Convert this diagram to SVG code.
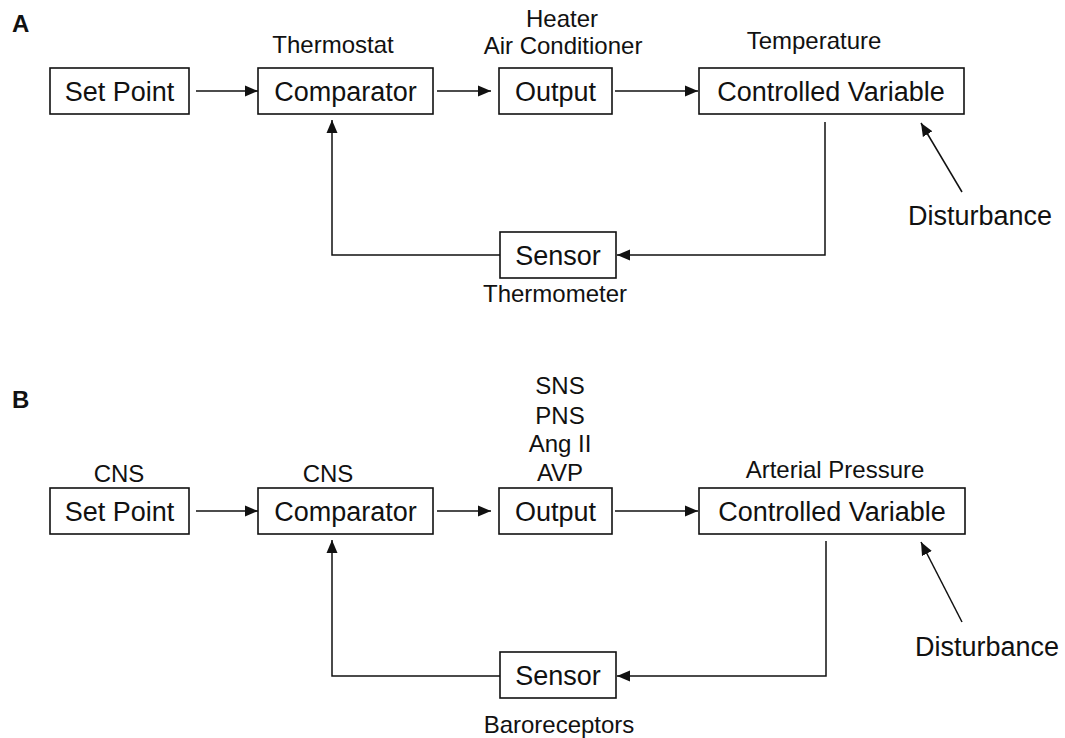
<svg xmlns="http://www.w3.org/2000/svg" width="1065" height="738" viewBox="0 0 1065 738">
<style>
.box{fill:#fff;stroke:#111;stroke-width:1.6}
.bt{font-family:"Liberation Sans",Arial,sans-serif;font-size:27px;fill:#111;text-anchor:middle}
.lt{font-family:"Liberation Sans",Arial,sans-serif;font-size:24px;fill:#111;text-anchor:middle}
.pl{font-family:"Liberation Sans",Arial,sans-serif;font-size:24px;font-weight:bold;fill:#111}
.ln{fill:none;stroke:#111;stroke-width:1.5}
.ar{marker-end:url(#ah)}
</style>
<defs>
<marker id="ah" markerUnits="userSpaceOnUse" markerWidth="14" markerHeight="12" refX="13" refY="6" orient="auto">
<path d="M0,0.5 L13,6 L0,11.5 z" fill="#111"/>
</marker>
</defs>
<rect width="1065" height="738" fill="#fff"/>
<text class="pl" x="12" y="32">A</text>
<text class="pl" x="12" y="408">B</text>
<g id="connectors">
<path class="ln ar" d="M196,91 H258"/>
<path class="ln ar" d="M437,91 H491"/>
<path class="ln ar" d="M615,91 H698"/>
<path class="ln ar" d="M825,122 V255 H617"/>
<path class="ln ar" d="M500,255 H332 V120"/>
<path class="ln ar" d="M962,192 L921,123"/>
<path class="ln ar" d="M196,511 H258"/>
<path class="ln ar" d="M437,511 H491"/>
<path class="ln ar" d="M615,511 H698"/>
<path class="ln ar" d="M826,541 V676 H617"/>
<path class="ln ar" d="M500,676 H332 V540"/>
<path class="ln ar" d="M962,622 L921,542"/>
</g>
<g id="a-setpoint"><rect class="box" x="50" y="68" width="139" height="46"/><text class="bt" x="119.5" y="101">Set Point</text></g>
<g id="a-comparator"><rect class="box" x="258" y="68" width="175" height="46"/><text class="bt" x="345.5" y="101">Comparator</text><text class="lt" x="333" y="53">Thermostat</text></g>
<g id="a-output"><rect class="box" x="499" y="68" width="113" height="46"/><text class="bt" x="555.5" y="101">Output</text><text class="lt" x="562" y="27">Heater</text><text class="lt" x="563" y="54">Air Conditioner</text></g>
<g id="a-cv"><rect class="box" x="699" y="68" width="265" height="46"/><text class="bt" x="831" y="101">Controlled Variable</text><text class="lt" x="814" y="49">Temperature</text></g>
<g id="a-sensor"><rect class="box" x="500" y="232" width="116" height="46"/><text class="bt" x="558" y="265">Sensor</text><text class="lt" x="555" y="302">Thermometer</text></g>
<g id="a-disturbance"><text class="bt" x="980" y="225">Disturbance</text></g>
<g id="b-setpoint"><rect class="box" x="50" y="488" width="139" height="46"/><text class="bt" x="119.5" y="521">Set Point</text><text class="lt" x="119" y="482">CNS</text></g>
<g id="b-comparator"><rect class="box" x="258" y="488" width="175" height="46"/><text class="bt" x="345.5" y="521">Comparator</text><text class="lt" x="328" y="482">CNS</text></g>
<g id="b-output"><rect class="box" x="499" y="488" width="113" height="46"/><text class="bt" x="555.5" y="521">Output</text><text class="lt" x="560" y="394">SNS</text><text class="lt" x="560" y="424">PNS</text><text class="lt" x="560" y="452">Ang II</text><text class="lt" x="560" y="481">AVP</text></g>
<g id="b-cv"><rect class="box" x="699" y="488" width="266" height="46"/><text class="bt" x="832" y="521">Controlled Variable</text><text class="lt" x="835" y="478">Arterial Pressure</text></g>
<g id="b-sensor"><rect class="box" x="500" y="652" width="116" height="46"/><text class="bt" x="558" y="685">Sensor</text><text class="lt" x="559" y="733">Baroreceptors</text></g>
<g id="b-disturbance"><text class="bt" x="987" y="656">Disturbance</text></g>
</svg>
